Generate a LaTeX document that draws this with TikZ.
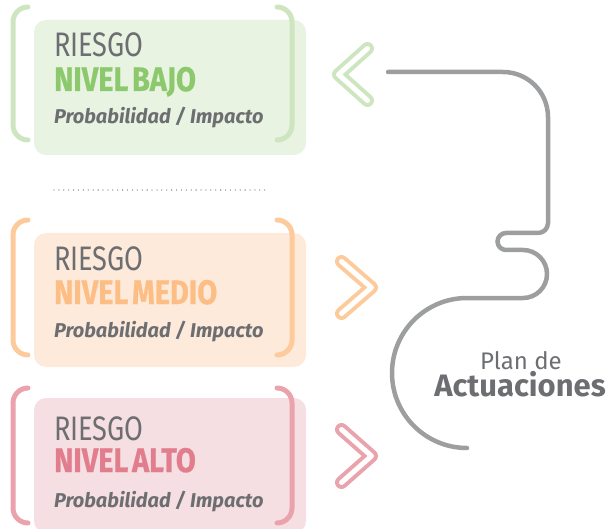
\documentclass[tikz,border=0pt]{standalone}
\usepackage{fontspec}
\setmainfont{Fira Sans}
\newfontfamily\condfont[FakeStretch=0.8]{Fira Sans}
\newfontfamily\condbold[FakeStretch=0.85,WordSpace=0.55,FakeBold=0.6]{Fira Sans Bold}
\definecolor{txtgray}{HTML}{6D6E71}
\definecolor{linegray}{HTML}{9D9EA0}
\definecolor{bajofill}{HTML}{E8F3E2}
\definecolor{bajoline}{HTML}{CDE6C0}
\definecolor{bajotext}{HTML}{8CC96C}
\definecolor{mediofill}{HTML}{FDEADA}
\definecolor{medioline}{HTML}{FDCB9B}
\definecolor{mediotext}{HTML}{FDBE86}
\definecolor{altofill}{HTML}{F6DFE2}
\definecolor{altoline}{HTML}{EAA3AC}
\definecolor{altotext}{HTML}{E27D8E}
\begin{document}
\begin{tikzpicture}[x=1pt,y=-1pt,inner sep=0pt,
        box/.style={rounded corners=12pt},
        brkt/.style={line width=5pt,line cap=round,rounded corners=15pt},
        chev/.style={line width=4pt,double=white,double distance=5pt,
            line cap=round,line join=round},
        plan/.style={linegray,line width=4.5pt,line cap=round},
        riesgo/.style={anchor=base west,text=txtgray,
            font=\condfont\fontsize{34}{34}\selectfont},
        nivel/.style={anchor=base west,font=\condbold\fontsize{34}{34}\selectfont},
        prob/.style={anchor=base west,text=txtgray,
            font=\bfseries\itshape\fontsize{20}{20}\selectfont}]
        \useasboundingbox (0,0) rectangle (610,529);
        % nivel bajo
        \fill[bajofill,box] (34,20) rectangle (306,155);
        \draw[bajoline,brkt] (28,7) -- (13,7) -- (13,140) -- (28,140);
        \draw[bajoline,brkt] (277,7) -- (292,7) -- (292,140) -- (277,140);
        \node[riesgo] (riesgoBajo) at (54,57) {RIESGO};
        \node[nivel,text=bajotext] (nivelBajo) at (54,91) {NIVEL BAJO};
        \node[prob] (probBajo) at (54,124) {Probabilidad / Impacto};
        \draw[txtgray,line width=1.3pt,line cap=round,dash pattern=on 0pt off 4.9pt] (54,190) -- (267,190);
        % nivel medio
        \fill[mediofill,box] (34,233) rectangle (306,367);
        \draw[medioline,brkt] (28,220) -- (13,220) -- (13,355) -- (28,355);
        \draw[medioline,brkt] (277,220) -- (292,220) -- (292,355) -- (277,355);
        \node[riesgo] (riesgoMedio) at (54,271) {RIESGO};
        \node[nivel,text=mediotext] (nivelMedio) at (54,304) {NIVEL MEDIO};
        \node[prob] (probMedio) at (54,337) {Probabilidad / Impacto};
        % nivel alto
        \fill[altofill,box] (34,398) rectangle (306,533);
        \draw[altoline,brkt] (28,388) -- (13,388) -- (13,523) -- (28,523);
        \draw[altoline,brkt] (277,388) -- (292,388) -- (292,523) -- (277,523);
        \node[riesgo] (riesgoAlto) at (54,440) {RIESGO};
        \node[nivel,text=altotext] (nivelAlto) at (54,472) {NIVEL ALTO};
        \node[prob] (probAlto) at (54,507) {Probabilidad / Impacto};
        % chevrons
        \draw[chev,bajoline] (367.5,48.5) -- (338.5,74.5) -- (367.5,100.5);
        \draw[chev,medioline] (341.5,261.5) -- (371.5,287.5) -- (341.5,313.5);
        \draw[chev,altoline] (341.5,429.5) -- (371.5,456) -- (341.5,482.5);
        % plan de actuaciones
        \coordinate (planStart) at (388,72);
        \draw[plan] (planStart) -- (503,72) arc (-90:0:45) -- (548,223)
            arc (0:90:10) -- (506,233) arc (-90:-270:8.5) -- (523,250)
            arc (-90:90:24) -- (467,298) arc (-90:-270:75) coordinate (planEnd);
        \node[anchor=base,text=txtgray,font=\fontsize{24}{24}\selectfont] (planDe) at (521,369) {Plan de};
        \node[anchor=base,text=txtgray,font=\bfseries\fontsize{31}{31}\selectfont] (actuaciones) at (520,396) {Actuaciones};
\end{tikzpicture}
\end{document}
